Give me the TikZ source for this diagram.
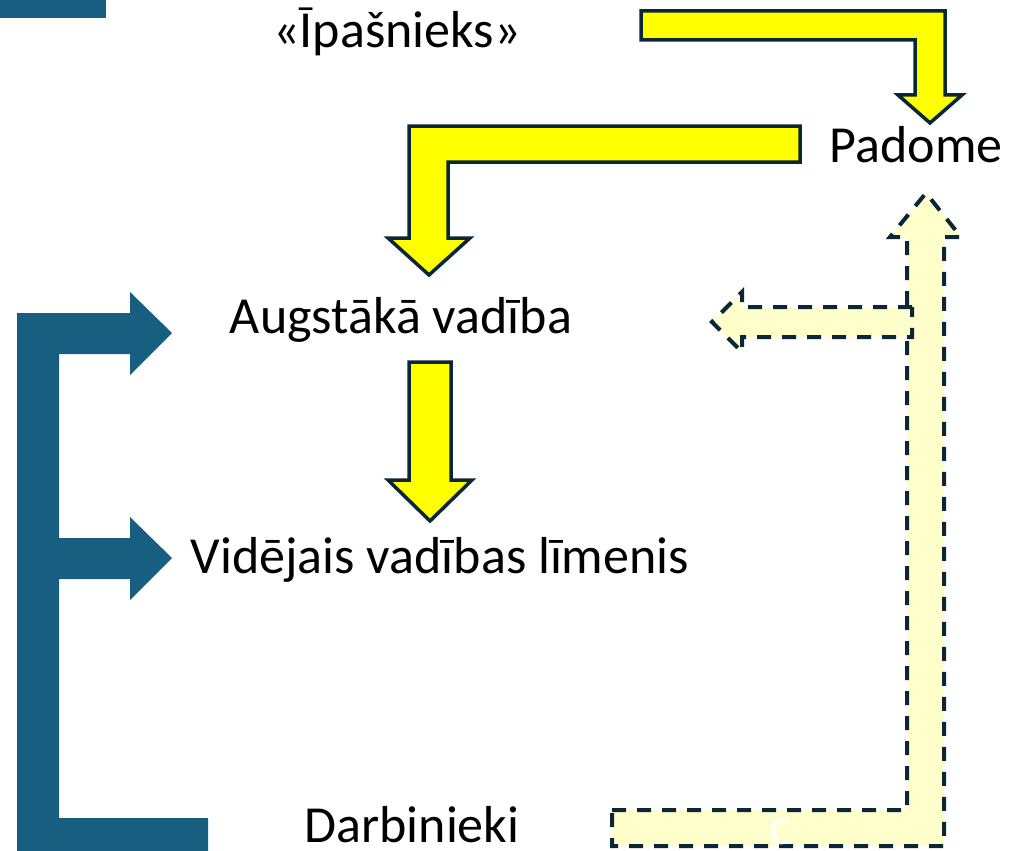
\documentclass[tikz,border=0pt]{standalone}
\usepackage{fontspec}
\setmainfont{Carlito}
\definecolor{vblue}{RGB}{23,94,128}
\definecolor{vline}{RGB}{11,38,54}
\definecolor{vyellow}{RGB}{255,255,0}
\definecolor{vpale}{RGB}{255,255,204}
\tikzset{
	lvl/.style={anchor=base,inner sep=0pt,font=\fontsize{52}{60}\selectfont},
	yarrow/.style={fill=vyellow,draw=vline,line width=3.5pt,line join=miter},
	parrow/.style={fill=vpale,draw=vline,line width=4pt,dash pattern=on 14pt off 11pt}
}
\begin{document}
\begin{tikzpicture}[x=1pt,y=-1pt]
		\useasboundingbox (0,0) rectangle (1010,851);
		% levels
		\node[lvl] (owner) at (397,48) {«Īpašnieks»};
		\node[lvl] (board) at (916,162) {Padome};
		\node[lvl] (topmgmt) at (401,333) {Augstākā vadība};
		\node[lvl] (midmgmt) at (440,573) {Vidējais vadības līmenis};
		\node[lvl] (staff) at (412,842) {Darbinieki};
		% blue bracket
		\fill[vblue] (0,0) rectangle (106,18);
		\fill[vblue] (17,313) -- (130,313) -- (130,292) -- (172,333) -- (130,375) -- (130,354) -- (59,354) -- (59,538) -- (130,538) -- (130,517) -- (172,558) -- (130,600) -- (130,579) -- (59,579) -- (59,818) -- (208,818) -- (208,851) -- (17,851) -- cycle;
		% yellow arrows down
		\draw[yarrow] (641,11) -- (945,11) -- (945,95) -- (962,95) -- (930,123) -- (898,95) -- (915,95) -- (915,40) -- (641,40) -- cycle;
		\draw[yarrow] (800,126) -- (800,162) -- (448,162) -- (448,238) -- (470,238) -- (429,275) -- (388,238) -- (409,238) -- (409,126) -- cycle;
		\draw[yarrow] (409,362) -- (451,362) -- (451,480) -- (472,480) -- (430,521) -- (388,480) -- (409,480) -- cycle;
		% pale arrows up
		\draw[parrow] (612,810) -- (907,810) -- (907,237) -- (890,237) -- (926,193) -- (961,237) -- (944,237) -- (944,846) -- (612,846) -- cycle;
		\draw[parrow] (912,307) -- (742,307) -- (742,292) -- (712,322) -- (742,352) -- (742,337) -- (912,337) -- cycle;
		\node[lvl,text=white] (mark) at (780,844) {c};
	\end{tikzpicture}
\end{document}
